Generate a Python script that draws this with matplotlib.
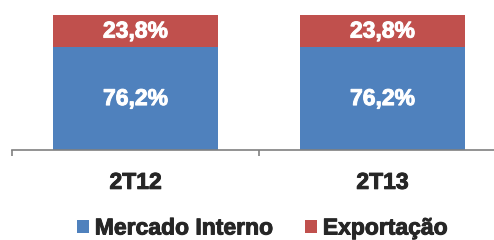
import matplotlib
matplotlib.use('Agg')
import matplotlib.pyplot as plt
import matplotlib.patheffects as pe
from matplotlib.patches import Patch
import numpy as np

categories = ['2T12', '2T13']
mercado_interno = [76.2, 76.2]
exportacao = [23.8, 23.8]
series_names = ['Mercado Interno', 'Exportação']

blue = '#4F81BD'
red = '#C0504D'
text_color = '#262626'
axis_color = '#808080'

plt.rcParams['font.family'] = ['Liberation Sans', 'DejaVu Sans']
plt.rcParams['font.weight'] = 'bold'


def heavy(color):
    # the original text renders a bit heavier than matplotlib's bold
    return [pe.withStroke(linewidth=0.7, foreground=color)]


fig = plt.figure(figsize=(4.94, 2.40), dpi=100)
ax = fig.add_axes([12 / 494, 90 / 240, 494 / 494, 135 / 240])

x = np.arange(len(categories))
width = 0.67
ax.bar(x, mercado_interno, width, color=blue)
ax.bar(x, exportacao, width, bottom=mercado_interno, color=red)

for i in range(len(categories)):
    ax.text(x[i], mercado_interno[i] / 2, f'{mercado_interno[i]:.1f}%'.replace('.', ','),
            ha='center', va='center', color='white', fontsize=16.5, fontweight='bold',
            path_effects=heavy('white'))
    ax.text(x[i], mercado_interno[i] + exportacao[i] / 2,
            f'{exportacao[i]:.1f}%'.replace('.', ','),
            ha='center', va='center', color='white', fontsize=16.5, fontweight='bold',
            path_effects=heavy('white'))

ax.set_xlim(-0.5, len(categories) - 0.5)
ax.set_ylim(0, 100)
for s in ['top', 'right', 'left']:
    ax.spines[s].set_visible(False)
ax.spines['bottom'].set_color(axis_color)
ax.spines['bottom'].set_linewidth(1.2)
ax.set_yticks([])

ax.set_xticks(np.arange(len(categories) + 1) - 0.5)
ax.set_xticklabels([])
ax.tick_params(axis='x', which='major', length=4.5, width=1.2, color=axis_color, direction='out')
ax.set_xticks(x, minor=True)
ax.set_xticklabels(categories, minor=True)
ax.tick_params(axis='x', which='minor', length=0, pad=15, labelsize=16.5, labelcolor=text_color)
for lbl in ax.get_xticklabels(minor=True):
    lbl.set_path_effects(heavy(text_color))

handles = [Patch(facecolor=blue), Patch(facecolor=red)]
leg = fig.legend(handles, series_names, loc='center', bbox_to_anchor=(262 / 494, 1 - 228 / 240),
                 ncol=2, frameon=False, handlelength=0.52, handleheight=0.52,
                 handletextpad=0.26, columnspacing=1.43, labelcolor=text_color,
                 prop={'weight': 'bold', 'size': 16.5})
for t in leg.get_texts():
    t.set_path_effects(heavy(text_color))

fig.savefig('out.png', dpi=100)
